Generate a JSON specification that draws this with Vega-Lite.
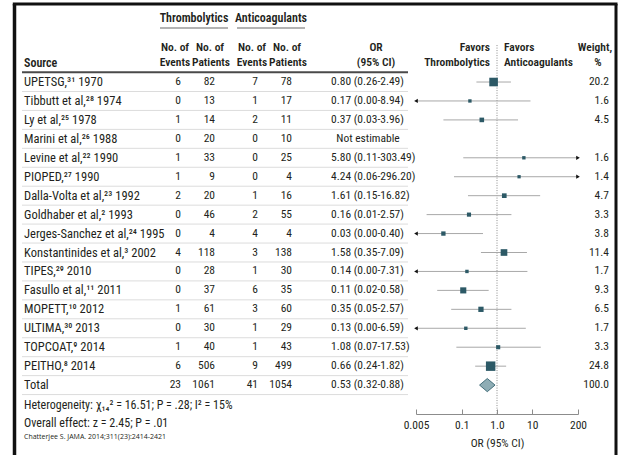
{
  "$schema": "https://vega.github.io/schema/vega-lite/v6.json",
  "width": 621,
  "height": 455,
  "padding": 0,
  "autosize": "none",
  "config": {
    "view": {"stroke": null},
    "text": {"font": "Noto Sans ExtraCondensed, Noto Sans Condensed, Liberation Sans Narrow, Roboto Condensed, Open Sans Condensed, Liberation Sans, sans-serif", "fontSize": 11.5, "fontWeight": "normal", "color": "#231f20", "baseline": "middle"},
    "axis": {"labelFont": "Noto Sans ExtraCondensed, Noto Sans Condensed, Liberation Sans Narrow, Roboto Condensed, Open Sans Condensed, Liberation Sans, sans-serif", "titleFont": "Noto Sans ExtraCondensed, Noto Sans Condensed, Liberation Sans Narrow, Roboto Condensed, Open Sans Condensed, Liberation Sans, sans-serif"}
  },
  "data": {"values": [
    {"row": 1, "source": "UPETSG,³¹ 1970", "ev_t": 6, "pt_t": 82, "ev_a": 7, "pt_a": 78, "or": 0.80, "lo": 0.26, "hi": 2.49, "ci": "0.80 (0.26-2.49)", "weight": 20.2},
    {"row": 2, "source": "Tibbutt et al,²⁸ 1974", "ev_t": 0, "pt_t": 13, "ev_a": 1, "pt_a": 17, "or": 0.17, "lo": 0.00, "hi": 8.94, "ci": "0.17 (0.00-8.94)", "weight": 1.6},
    {"row": 3, "source": "Ly et al,²⁵ 1978", "ev_t": 1, "pt_t": 14, "ev_a": 2, "pt_a": 11, "or": 0.37, "lo": 0.03, "hi": 3.96, "ci": "0.37 (0.03-3.96)", "weight": 4.5},
    {"row": 4, "source": "Marini et al,²⁶ 1988", "ev_t": 0, "pt_t": 20, "ev_a": 0, "pt_a": 10, "or": null, "lo": null, "hi": null, "ci": "Not estimable", "weight": null},
    {"row": 5, "source": "Levine et al,²² 1990", "ev_t": 1, "pt_t": 33, "ev_a": 0, "pt_a": 25, "or": 5.80, "lo": 0.11, "hi": 303.49, "ci": "5.80 (0.11-303.49)", "weight": 1.6},
    {"row": 6, "source": "PIOPED,²⁷ 1990", "ev_t": 1, "pt_t": 9, "ev_a": 0, "pt_a": 4, "or": 4.24, "lo": 0.06, "hi": 296.20, "ci": "4.24 (0.06-296.20)", "weight": 1.4},
    {"row": 7, "source": "Dalla-Volta et al,²³ 1992", "ev_t": 2, "pt_t": 20, "ev_a": 1, "pt_a": 16, "or": 1.61, "lo": 0.15, "hi": 16.82, "ci": "1.61 (0.15-16.82)", "weight": 4.7},
    {"row": 8, "source": "Goldhaber et al,² 1993", "ev_t": 0, "pt_t": 46, "ev_a": 2, "pt_a": 55, "or": 0.16, "lo": 0.01, "hi": 2.57, "ci": "0.16 (0.01-2.57)", "weight": 3.3},
    {"row": 9, "source": "Jerges-Sanchez et al,²⁴ 1995", "ev_t": 0, "pt_t": 4, "ev_a": 4, "pt_a": 4, "or": 0.03, "lo": 0.00, "hi": 0.40, "ci": "0.03 (0.00-0.40)", "weight": 3.8},
    {"row": 10, "source": "Konstantinides et al,³ 2002", "ev_t": 4, "pt_t": 118, "ev_a": 3, "pt_a": 138, "or": 1.58, "lo": 0.35, "hi": 7.09, "ci": "1.58 (0.35-7.09)", "weight": 11.4},
    {"row": 11, "source": "TIPES,²⁹ 2010", "ev_t": 0, "pt_t": 28, "ev_a": 1, "pt_a": 30, "or": 0.14, "lo": 0.00, "hi": 7.31, "ci": "0.14 (0.00-7.31)", "weight": 1.7},
    {"row": 12, "source": "Fasullo et al,¹¹ 2011", "ev_t": 0, "pt_t": 37, "ev_a": 6, "pt_a": 35, "or": 0.11, "lo": 0.02, "hi": 0.58, "ci": "0.11 (0.02-0.58)", "weight": 9.3},
    {"row": 13, "source": "MOPETT,¹⁰ 2012", "ev_t": 1, "pt_t": 61, "ev_a": 3, "pt_a": 60, "or": 0.35, "lo": 0.05, "hi": 2.57, "ci": "0.35 (0.05-2.57)", "weight": 6.5},
    {"row": 14, "source": "ULTIMA,³⁰ 2013", "ev_t": 0, "pt_t": 30, "ev_a": 1, "pt_a": 29, "or": 0.13, "lo": 0.00, "hi": 6.59, "ci": "0.13 (0.00-6.59)", "weight": 1.7},
    {"row": 15, "source": "TOPCOAT,⁹ 2014", "ev_t": 1, "pt_t": 40, "ev_a": 1, "pt_a": 43, "or": 1.08, "lo": 0.07, "hi": 17.53, "ci": "1.08 (0.07-17.53)", "weight": 3.3},
    {"row": 16, "source": "PEITHO,⁸ 2014", "ev_t": 6, "pt_t": 506, "ev_a": 9, "pt_a": 499, "or": 0.66, "lo": 0.24, "hi": 1.82, "ci": "0.66 (0.24-1.82)", "weight": 24.8},
    {"row": 17, "source": "Total", "ev_t": 23, "pt_t": 1061, "ev_a": 41, "pt_a": 1054, "or": 0.53, "lo": 0.32, "hi": 0.88, "ci": "0.53 (0.32-0.88)", "weight": 100.0}
  ]},
  "resolve": {"scale": {"x": "independent"}, "axis": {"x": "independent"}},
  "layer": [
    {
      "layer": [
        {"data": {"values": [{}]}, "mark": {"type": "rule", "stroke": "#111", "strokeWidth": 3.5},
         "encoding": {"x": {"datum": 14.5, "type": "quantitative", "scale": {"domain": [0, 621], "nice": false, "zero": false}, "axis": null},
                      "y": {"datum": -3.12, "type": "quantitative", "scale": {"domain": [-3.33, 20.69], "reverse": true, "nice": false, "zero": false}, "axis": null},
                      "y2": {"datum": 21.5}}},
        {"data": {"values": [{}]}, "mark": {"type": "rule", "stroke": "#111", "strokeWidth": 3},
         "encoding": {"x": {"datum": 616}, "y": {"datum": -3.12}, "y2": {"datum": 21.5}}},
        {"data": {"values": [{}]}, "mark": {"type": "rule", "stroke": "#111", "strokeWidth": 3},
         "encoding": {"x": {"datum": 12.8}, "x2": {"datum": 617.5}, "y": {"datum": -3.12}}},
        {"data": {"values": [{}]}, "mark": {"type": "rule", "stroke": "#9a9a9a", "strokeWidth": 1.5},
         "encoding": {"x": {"datum": 160}, "x2": {"datum": 228}, "y": {"datum": -1.85}}},
        {"data": {"values": [{}]}, "mark": {"type": "rule", "stroke": "#9a9a9a", "strokeWidth": 1.5},
         "encoding": {"x": {"datum": 237}, "x2": {"datum": 305}, "y": {"datum": -1.85}}},
        {"mark": {"type": "rule", "stroke": "#dcdcdc", "strokeWidth": 1, "yOffset": 9.47},
         "encoding": {"x": {"datum": 22}, "x2": {"datum": 408}, "y": {"field": "row", "type": "quantitative"}}},
        {"data": {"values": [{}]}, "mark": {"type": "rule", "stroke": "#4a4a4a", "strokeWidth": 2},
         "encoding": {"x": {"datum": 22}, "x2": {"datum": 408}, "y": {"datum": 0.48}}},
        {"mark": {"type": "text", "align": "left", "fontSize": 12.5},
         "encoding": {"x": {"datum": 24}, "y": {"field": "row", "type": "quantitative"}, "text": {"field": "source"}}},
        {"mark": {"type": "text", "align": "right"},
         "encoding": {"x": {"datum": 181}, "y": {"field": "row", "type": "quantitative"}, "text": {"field": "ev_t"}}},
        {"mark": {"type": "text", "align": "right"},
         "encoding": {"x": {"datum": 215}, "y": {"field": "row", "type": "quantitative"}, "text": {"field": "pt_t"}}},
        {"mark": {"type": "text", "align": "right"},
         "encoding": {"x": {"datum": 258}, "y": {"field": "row", "type": "quantitative"}, "text": {"field": "ev_a"}}},
        {"mark": {"type": "text", "align": "right"},
         "encoding": {"x": {"datum": 292}, "y": {"field": "row", "type": "quantitative"}, "text": {"field": "pt_a"}}},
        {"transform": [{"filter": "datum.or != null"}], "mark": {"type": "text", "align": "left"},
         "encoding": {"x": {"datum": 331}, "y": {"field": "row", "type": "quantitative"}, "text": {"field": "ci"}}},
        {"transform": [{"filter": "datum.or == null"}], "mark": {"type": "text", "align": "center"},
         "encoding": {"x": {"datum": 368}, "y": {"field": "row", "type": "quantitative"}, "text": {"field": "ci"}}},
        {"transform": [{"filter": "datum.weight != null"}], "mark": {"type": "text", "align": "right"},
         "encoding": {"x": {"datum": 609}, "y": {"field": "row", "type": "quantitative"}, "text": {"field": "weight", "format": ".1f"}}},
        {"data": {"values": [{}]}, "mark": {"type": "text", "text": "Thrombolytics", "fontWeight": 600, "fontSize": 12}, "encoding": {"x": {"datum": 194}, "y": {"datum": -2.38}}},
        {"data": {"values": [{}]}, "mark": {"type": "text", "text": "Anticoagulants", "fontWeight": 600, "fontSize": 12}, "encoding": {"x": {"datum": 271}, "y": {"datum": -2.38}}},
        {"data": {"values": [{}]}, "mark": {"type": "text", "text": "No. of", "fontWeight": 600, "fontSize": 11.5}, "encoding": {"x": {"datum": 175}, "y": {"datum": -0.8}}},
        {"data": {"values": [{}]}, "mark": {"type": "text", "text": "Events", "fontWeight": 600, "fontSize": 11.5}, "encoding": {"x": {"datum": 175}, "y": {"datum": 0}}},
        {"data": {"values": [{}]}, "mark": {"type": "text", "text": "No. of", "fontWeight": 600, "fontSize": 11.5}, "encoding": {"x": {"datum": 210}, "y": {"datum": -0.8}}},
        {"data": {"values": [{}]}, "mark": {"type": "text", "text": "Patients", "fontWeight": 600, "fontSize": 11.5}, "encoding": {"x": {"datum": 211}, "y": {"datum": 0}}},
        {"data": {"values": [{}]}, "mark": {"type": "text", "text": "No. of", "fontWeight": 600, "fontSize": 11.5}, "encoding": {"x": {"datum": 252}, "y": {"datum": -0.8}}},
        {"data": {"values": [{}]}, "mark": {"type": "text", "text": "Events", "fontWeight": 600, "fontSize": 11.5}, "encoding": {"x": {"datum": 252}, "y": {"datum": 0}}},
        {"data": {"values": [{}]}, "mark": {"type": "text", "text": "No. of", "fontWeight": 600, "fontSize": 11.5}, "encoding": {"x": {"datum": 287}, "y": {"datum": -0.8}}},
        {"data": {"values": [{}]}, "mark": {"type": "text", "text": "Patients", "fontWeight": 600, "fontSize": 11.5}, "encoding": {"x": {"datum": 288}, "y": {"datum": 0}}},
        {"data": {"values": [{}]}, "mark": {"type": "text", "text": "Source", "fontWeight": 600, "fontSize": 12, "align": "left"}, "encoding": {"x": {"datum": 24}, "y": {"datum": 0}}},
        {"data": {"values": [{}]}, "mark": {"type": "text", "text": "OR", "fontWeight": 600, "fontSize": 11.5}, "encoding": {"x": {"datum": 376}, "y": {"datum": -0.8}}},
        {"data": {"values": [{}]}, "mark": {"type": "text", "text": "(95% CI)", "fontWeight": 600, "fontSize": 11.5}, "encoding": {"x": {"datum": 376}, "y": {"datum": 0}}},
        {"data": {"values": [{}]}, "mark": {"type": "text", "text": "Favors", "fontWeight": 600, "fontSize": 11.5, "align": "right"}, "encoding": {"x": {"datum": 490}, "y": {"datum": -0.8}}},
        {"data": {"values": [{}]}, "mark": {"type": "text", "text": "Thrombolytics", "fontWeight": 600, "fontSize": 11.5, "align": "right"}, "encoding": {"x": {"datum": 490}, "y": {"datum": 0}}},
        {"data": {"values": [{}]}, "mark": {"type": "text", "text": "Favors", "fontWeight": 600, "fontSize": 11.5, "align": "left"}, "encoding": {"x": {"datum": 504}, "y": {"datum": -0.8}}},
        {"data": {"values": [{}]}, "mark": {"type": "text", "text": "Anticoagulants", "fontWeight": 600, "fontSize": 11.5, "align": "left"}, "encoding": {"x": {"datum": 504}, "y": {"datum": 0}}},
        {"data": {"values": [{}]}, "mark": {"type": "text", "text": "Weight,", "fontWeight": 600, "fontSize": 11.5}, "encoding": {"x": {"datum": 595}, "y": {"datum": -0.8}}},
        {"data": {"values": [{}]}, "mark": {"type": "text", "text": "%", "fontWeight": 600, "fontSize": 11.5}, "encoding": {"x": {"datum": 598}, "y": {"datum": 0}}},
        {"data": {"values": [{}]}, "mark": {"type": "text", "text": "Heterogeneity: χ₁₄² = 16.51; P = .28; I² = 15%", "align": "left", "fontSize": 12}, "encoding": {"x": {"datum": 24}, "y": {"datum": 18.05}}},
        {"data": {"values": [{}]}, "mark": {"type": "text", "text": "Overall effect: z = 2.45; P = .01", "align": "left", "fontSize": 12}, "encoding": {"x": {"datum": 24}, "y": {"datum": 19.0}}},
        {"data": {"values": [{}]}, "mark": {"type": "text", "text": "Chatterjee S. JAMA. 2014;311(23):2414-2421", "align": "left", "font": "Open Sans, DejaVu Sans, sans-serif", "fontWeight": "normal", "fontSize": 7}, "encoding": {"x": {"datum": 24}, "y": {"datum": 19.72}}}
      ]
    },
    {
      "transform": [
        {"filter": "datum.or != null"},
        {"calculate": "max(datum.lo, 0.005)", "as": "lo_c"},
        {"calculate": "min(datum.hi, 200)", "as": "hi_c"}
      ],
      "layer": [
        {"data": {"values": [{}]}, "mark": {"type": "rule", "stroke": "#8a8a8a", "strokeWidth": 1, "strokeDash": [1, 1.5]},
         "encoding": {
           "x": {"datum": 1, "type": "quantitative",
                 "scale": {"type": "log", "domain": [0.005, 200], "range": [416, 578], "nice": false},
                 "axis": {"orient": "bottom", "values": [0.005, 0.1, 1, 10, 200], "format": "~g", "labelExpr": "datum.value == 1 ? '1.0' : datum.label",
                          "offset": -41, "tickSize": -5, "domainColor": "#8c8c8c", "tickColor": "#8c8c8c", "domainWidth": 1,
                          "labelColor": "#231f20", "labelFontSize": 11.5, "labelFontWeight": "normal", "labelPadding": 10, "labelFlush": false, "labelOverlap": false,
                          "grid": false, "title": "OR (95% CI)", "titleFontSize": 11.5, "titleFontWeight": "normal", "titleColor": "#231f20", "titlePadding": 7}},
           "y": {"datum": -0.95}, "y2": {"datum": 18.53}}},
        {"transform": [{"filter": "datum.row < 17"}], "mark": {"type": "rule", "stroke": "#a8a8a8", "strokeWidth": 1},
         "encoding": {"x": {"field": "lo_c", "type": "quantitative"}, "x2": {"field": "hi_c"}, "y": {"field": "row", "type": "quantitative"}}},
        {"transform": [{"filter": "datum.row < 17 && datum.lo < 0.005"}], "mark": {"type": "point", "shape": "triangle-left", "filled": true, "color": "#111", "size": 18, "opacity": 1},
         "encoding": {"x": {"field": "lo_c", "type": "quantitative"}, "y": {"field": "row", "type": "quantitative"}}},
        {"transform": [{"filter": "datum.row < 17 && datum.hi > 200"}], "mark": {"type": "point", "shape": "triangle-right", "filled": true, "color": "#111", "size": 18, "opacity": 1},
         "encoding": {"x": {"field": "hi_c", "type": "quantitative"}, "y": {"field": "row", "type": "quantitative"}}},
        {"transform": [{"filter": "datum.row < 17"}], "mark": {"type": "point", "shape": "square", "filled": true, "color": "#2c5966", "opacity": 1},
         "encoding": {"x": {"field": "or", "type": "quantitative"}, "y": {"field": "row", "type": "quantitative"},
                      "size": {"field": "weight", "type": "quantitative", "scale": {"domain": [0, 25], "range": [6, 90]}, "legend": null}}},
        {"transform": [{"filter": "datum.row == 17"}], "mark": {"type": "point", "shape": "M-1,0L0,-0.85L1,0L0,0.85Z", "filled": true, "fill": "#8eadb5", "stroke": "#46707c", "strokeWidth": 1, "size": 240, "opacity": 1},
         "encoding": {"x": {"field": "or", "type": "quantitative"}, "y": {"field": "row", "type": "quantitative"}}}
      ]
    }
  ]
}
